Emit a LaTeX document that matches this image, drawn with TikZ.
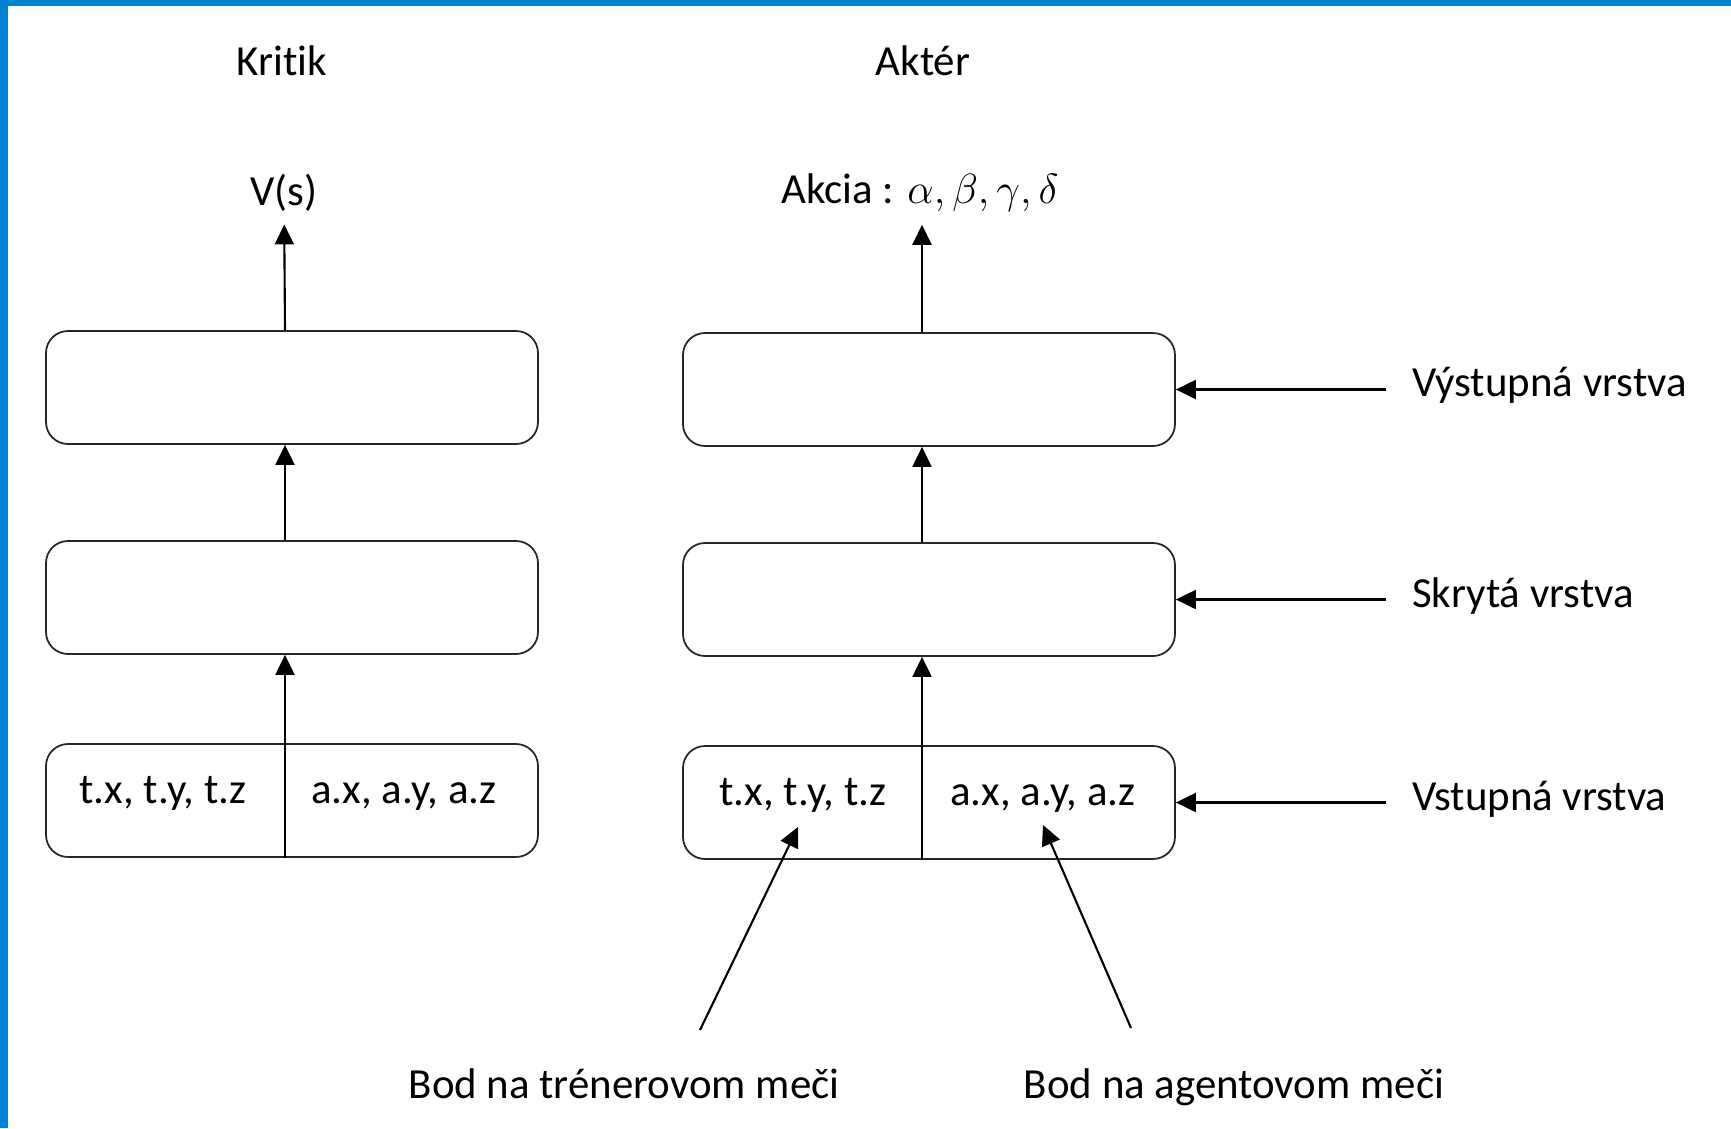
\documentclass[tikz,border=0pt]{standalone}
\usepackage{fontspec}
\setmainfont{Carlito}[Ligatures=NoCommon]
\usepackage{tikz}
\usetikzlibrary{arrows.meta, positioning}
\definecolor{frameblue}{RGB}{0,130,208}

\begin{document}
\begin{tikzpicture}[-{Triangle[length=2mm,width=1.9mm]}, line width=0.6pt, node distance=2.1cm,
			font=\fontsize{12.2}{14}\selectfont]
			\tikzstyle{layer}=[draw=black!85, line width=0.5pt, rounded corners=2.2mm,
			minimum width=4.92cm, minimum height=1.13cm, inner sep=0pt]
			\tikzstyle{cell}=[text height=1.6ex, text depth=0.5ex]
			\tikzstyle{side}=[anchor=west, inner sep=0pt]
			\useasboundingbox (0,0) rectangle (17.31,-11.28);
			\fill[frameblue] (0,0) rectangle (17.31,-0.06);
			\fill[frameblue] (0,0) rectangle (0.08,-11.28);

			% Kritik
			\node[layer] (outK) at (2.92,-3.875) {};
			\node[layer] (hidK) [below of=outK] {};
			\node[layer] (inK) [below of=hidK, node distance=2.03cm] {};
			\coordinate (divK) at (2.85,-8.005);
			\draw[-] (divK |- inK.north) -- (divK |- inK.south);
			\node[cell] (txK) at (1.63,-7.94) {t.x, t.y, t.z};
			\node[cell] (axK) at (4.04,-7.94) {a.x, a.y, a.z};
			\node (vs) at (2.84,-1.93) {V(s)};
			\node (kritik) at (2.82,-0.61) {Kritik};

			% Akter
			\node[layer] (outA) at (9.29,-3.895) {};
			\node[layer] (hidA) [below of=outA] {};
			\node[layer] (inA) [below of=hidA, node distance=2.03cm] {};
			\coordinate (divA) at (9.22,-8.025);
			\draw[-] (divA |- inA.north) -- (divA |- inA.south);
			\node[cell] (txA) at (8.03,-7.96) {t.x, t.y, t.z};
			\node[cell] (axA) at (10.43,-7.96) {a.x, a.y, a.z};
			\node (akcia) at (9.20,-1.93) {Akcia : $\alpha, \beta, \gamma, \delta$};
			\node (akter) at (9.23,-0.61) {Aktér};

			\node[side] (lblOut) at (14.11,-3.85) {Výstupná vrstva};
			\node[side] (lblHid) at (14.11,-5.96) {Skrytá vrstva};
			\node[side] (lblIn) at (14.11,-7.99) {Vstupná vrstva};

			\node[cell] (trener) at (6.24,-10.89) {Bod na trénerovom meči};
			\node[cell] (agent) at (12.34,-10.89) {Bod na agentovom meči};
			\coordinate (trStart) at (7.00,-10.30);
			\coordinate (trTip) at (7.98,-8.27);
			\coordinate (agStart) at (11.31,-10.28);
			\coordinate (agTip) at (10.43,-8.25);

			\path (divK |- inK.north) edge (divK |- hidK.south);
			\path (divK |- hidK.north) edge (divK |- outK.south);
			\path (divK |- outK.north) edge (vs);
			\path (divA |- inA.north) edge (divA |- hidA.south);
			\path (divA |- hidA.north) edge (divA |- outA.south);
			\path (divA |- outA.north) edge (divA |- akcia.south);
			\path ([xshift=-2.5mm]lblOut.west |- outA.east) edge (outA.east);
			\path ([xshift=-2.5mm]lblHid.west |- hidA.east) edge (hidA.east);
			\path ([xshift=-2.5mm]lblIn.west |- inA.east) edge (inA.east);
			\path (trStart) edge (trTip);
			\path (agStart) edge (agTip);
		\end{tikzpicture}
\end{document}
